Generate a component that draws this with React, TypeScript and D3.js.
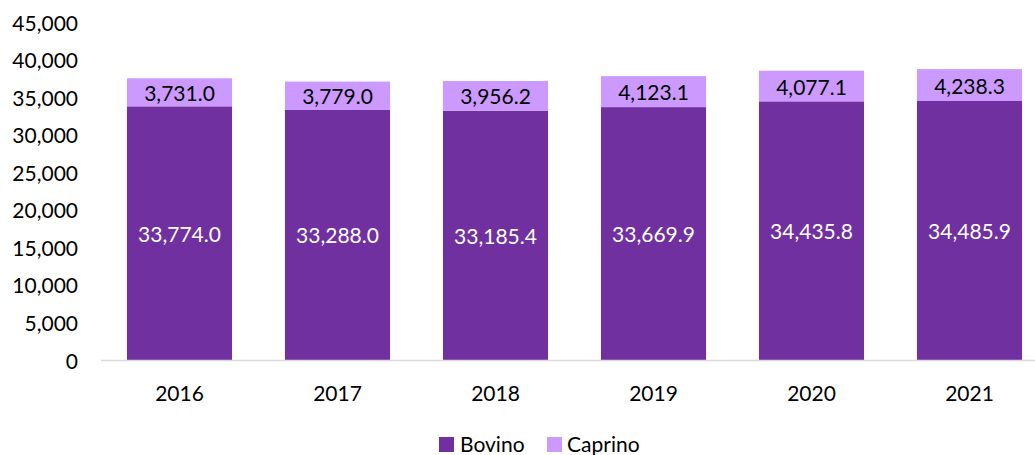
import React from "react";
import * as d3 from "d3";

const years = ["2016", "2017", "2018", "2019", "2020", "2021"];
const bovino = [33774.0, 33288.0, 33185.4, 33669.9, 34435.8, 34485.9];
const caprino = [3731.0, 3779.0, 3956.2, 4123.1, 4077.1, 4238.3];
const yTicks = [0, 5000, 10000, 15000, 20000, 25000, 30000, 35000, 40000, 45000];
const seriesNames = ["Bovino", "Caprino"];
const colors = ["#7030A0", "#CC99FF"];

const W = 1035;
const H = 455;
const FONT = "Lato, 'Open Sans', sans-serif";

export default function App() {
  const y = d3.scaleLinear().domain([0, 45000]).range([360, 22]);
  const x = d3
    .scaleBand<string>()
    .domain(years)
    .range([100.5, 1048.5])
    .paddingInner(0.335)
    .paddingOuter(0.1675);
  const fmtTick = d3.format(",");
  const fmtVal = d3.format(",.1f");
  const bw = x.bandwidth();

  return (
    <svg
      width={W}
      height={H}
      style={{ position: "absolute", left: 0, top: 0, background: "#fff" }}
      fontFamily={FONT}
    >
      {yTicks.map((t) => (
        <text key={t} x={78} y={y(t)} textAnchor="end" dominantBaseline="central" fontSize={21} fill="#000">
          {fmtTick(t)}
        </text>
      ))}
      {years.map((yr, i) => {
        const x0 = x(yr)!;
        const b = bovino[i];
        const c = caprino[i];
        const yb = y(b);
        const yc = y(b + c);
        return (
          <g key={yr}>
            <rect x={x0} y={yb} width={bw} height={y(0) - yb} fill={colors[0]} />
            <rect x={x0} y={yc} width={bw} height={yb - yc} fill={colors[1]} />
            <text x={x0 + bw / 2} y={(yb + y(0)) / 2} textAnchor="middle" dominantBaseline="central" fontSize={21} fill="#fff">
              {fmtVal(b)}
            </text>
            <text x={x0 + bw / 2} y={(yb + yc) / 2} textAnchor="middle" dominantBaseline="central" fontSize={21} fill="#000">
              {fmtVal(c)}
            </text>
            <text x={x0 + bw / 2} y={392} textAnchor="middle" dominantBaseline="central" fontSize={21} fill="#000">
              {yr}
            </text>
          </g>
        );
      })}
      <line x1={101} x2={W} y1={y(0) + 0.5} y2={y(0) + 0.5} stroke="#D9D9D9" strokeWidth={1.5} />
      <g>
        <rect x={439} y={437} width={15} height={15} fill={colors[0]} />
        <text x={460} y={443} dominantBaseline="central" fontSize={21} fill="#000">{seriesNames[0]}</text>
        <rect x={547} y={437} width={15} height={15} fill={colors[1]} />
        <text x={567} y={443} dominantBaseline="central" fontSize={21} fill="#000">{seriesNames[1]}</text>
      </g>
    </svg>
  );
}
